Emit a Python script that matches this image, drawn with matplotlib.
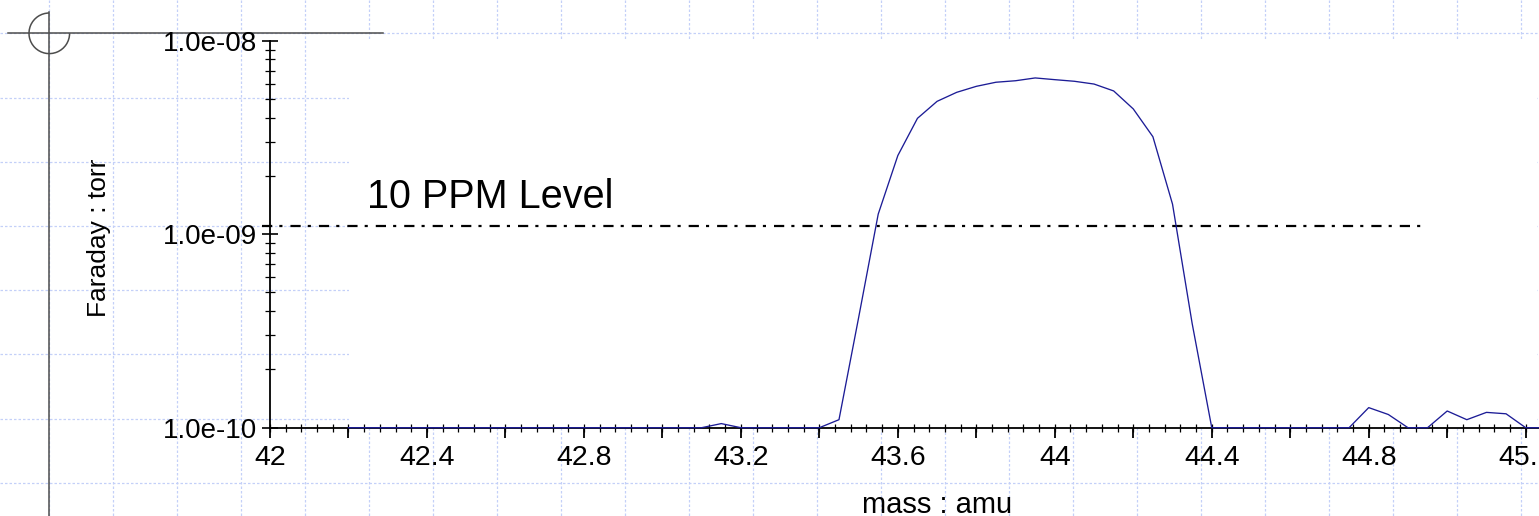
import matplotlib
matplotlib.use("Agg")
import matplotlib.pyplot as plt
from matplotlib.patches import Rectangle, Arc
from matplotlib.ticker import FixedLocator, MultipleLocator, FuncFormatter, LogLocator, NullFormatter
import numpy as np

plt.rcParams['font.family'] = ['Liberation Sans', 'DejaVu Sans']

# ---------------- data ----------------
mass = [42.20, 42.25, 42.30, 42.35, 42.40, 42.45, 42.50, 42.55, 42.60, 42.65,
        42.70, 42.75, 42.80, 42.85, 42.90, 42.95, 43.00, 43.05, 43.10, 43.15,
        43.20, 43.25, 43.30, 43.35, 43.40, 43.45, 43.50, 43.55, 43.60, 43.65,
        43.70, 43.75, 43.80, 43.85, 43.90, 43.95, 44.00, 44.05, 44.10, 44.15,
        44.20, 44.25, 44.30, 44.35, 44.40, 44.45, 44.50, 44.55, 44.60, 44.65,
        44.70, 44.75, 44.80, 44.85, 44.90, 44.95, 45.00, 45.05, 45.10, 45.15,
        45.20, 45.25]
pressure = [1e-10, 1e-10, 1e-10, 1e-10, 1e-10, 1e-10, 1e-10, 1e-10, 1e-10, 1e-10,
            1e-10, 1e-10, 1e-10, 1e-10, 1e-10, 1e-10, 1e-10, 1e-10, 1e-10, 1.05e-10,
            1e-10, 1e-10, 1e-10, 1e-10, 1e-10, 1.10e-10, 3.7e-10, 1.27e-9, 2.55e-9, 3.97e-9,
            4.86e-9, 5.41e-9, 5.81e-9, 6.10e-9, 6.21e-9, 6.42e-9, 6.29e-9, 6.17e-9, 5.97e-9, 5.50e-9,
            4.44e-9, 3.19e-9, 1.43e-9, 3.46e-10, 1e-10, 1e-10, 1e-10, 1e-10, 1e-10, 1e-10,
            1e-10, 1e-10, 1.27e-10, 1.17e-10, 1e-10, 1e-10, 1.22e-10, 1.10e-10, 1.20e-10, 1.18e-10,
            1e-10, 1e-10]

ppm_level = 1.1e-9
ppm_range = [41.98, 44.94]
ppm_text = "10 PPM Level"

xtick_pos = [42.0, 42.4, 42.8, 43.2, 43.6, 44.0, 44.4, 44.8, 45.2]
xtick_labels = ['42', '42.4', '42.8', '43.2', '43.6', '44', '44.4', '44.8', '45.2']
ytick_pos = [1e-10, 1e-9, 1e-8]
ytick_labels = ['1.0e-10', '1.0e-09', '1.0e-08']
xlabel = "mass : amu"
ylabel = "Faraday : torr"

# ---------------- layout ----------------
W, H = 1539, 516
fig = plt.figure(figsize=(W / 100, H / 100), dpi=100)
fig.patch.set_facecolor('white')

# background "slide" layer in pixel coordinates
bg = fig.add_axes([0, 0, 1, 1], zorder=0)
bg.set_xlim(0, W)
bg.set_ylim(H, 0)
bg.axis('off')

grid_col = '#c4d0f8'
for gx in np.arange(48.8, W, 64.0):
    bg.plot([gx, gx], [0, H], color=grid_col, lw=0.9, ls=(0, (2.0, 1.6)), zorder=1)
for gy in np.arange(33.3, H, 64.2):
    bg.plot([0, W], [gy, gy], color=grid_col, lw=0.9, ls=(0, (2.0, 1.6)), zorder=1)

# white plot area covering the grid
bg.add_patch(Rectangle((349, 40), 1537 - 349, 429 - 40, facecolor='white', edgecolor='none', zorder=2))

# registration mark
reg_col = '#4d4d4d'
bg.plot([8.3, 383.3], [33.3, 33.3], color=reg_col, lw=1.1, zorder=3)
bg.plot([49.3, 49.3], [12.3, H], color=reg_col, lw=1.1, zorder=3)
bg.add_patch(Arc((49.3, 33.3), 40.6, 40.6, theta1=0, theta2=270, color=reg_col, lw=1.1, zorder=3))

# text annotations (pixel positions)
bg.text(367, 208.3, ppm_text, fontsize=28.5, ha='left', va='baseline', zorder=5)
bg.text(937.5, 512.7, xlabel, fontsize=21, ha='center', va='baseline', zorder=5)
bg.text(106, 237.5, ylabel, fontsize=19, rotation=90, rotation_mode='anchor',
        ha='center', va='baseline', zorder=5)

# ---------------- main chart ----------------
x0_px, px_per_amu = 270.0, 392.4
top_px, bot_px = 40.7, 427.7
ax = fig.add_axes([x0_px / W, (H - bot_px) / H, (W - x0_px) / W, (bot_px - top_px) / H], zorder=2)
ax.patch.set_alpha(0)
ax.set_yscale('log')
ax.set_xlim(42.0, 42.0 + (W - x0_px) / px_per_amu)
ax.set_ylim(1e-10, 1e-8)

for s in ['top', 'right']:
    ax.spines[s].set_visible(False)
for s in ['left', 'bottom']:
    ax.spines[s].set_linewidth(1.3)
    ax.spines[s].set_color('black')

ax.plot(ppm_range, [ppm_level, ppm_level], color='black', lw=1.6,
        ls=(0, (4.6, 3.2, 1.4, 3.6)), clip_on=False, zorder=3)
ax.plot(mass, pressure, color='#1c1c96', lw=0.95, clip_on=False, zorder=4)

# x ticks
label_map = dict(zip([round(v, 2) for v in xtick_pos], xtick_labels))
ax.xaxis.set_major_locator(MultipleLocator(0.2))
ax.xaxis.set_major_formatter(FuncFormatter(lambda v, p: label_map.get(round(v, 2), '')))
ax.xaxis.set_minor_locator(MultipleLocator(0.04))
ax.xaxis.remove_overlapping_locs = False
ax.tick_params(axis='x', which='major', direction='out', length=7.2, width=1.3,
               pad=5.2, labelsize=20.5, colors='black')
ax.tick_params(axis='x', which='minor', direction='inout', length=5.8, width=0.9, colors='black')

# y ticks
ax.yaxis.set_major_locator(FixedLocator(ytick_pos))
ax.set_yticklabels(ytick_labels)
ax.yaxis.set_minor_locator(LogLocator(base=10, subs=np.arange(2, 10)))
ax.yaxis.set_minor_formatter(NullFormatter())
ax.tick_params(axis='y', which='major', direction='inout', length=11.5, width=1.2,
               pad=3.2, labelsize=20, colors='black')
ax.tick_params(axis='y', which='minor', direction='inout', length=7.2, width=0.9, colors='black')

fig.savefig('out.png', dpi=100, facecolor='white')
